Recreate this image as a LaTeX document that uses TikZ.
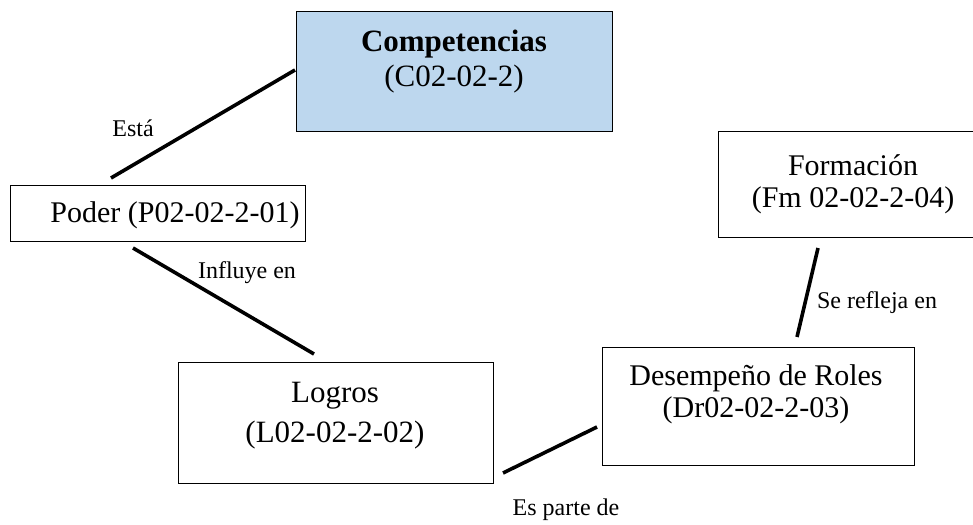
\documentclass[tikz,border=0pt]{standalone}
\usepackage{fontspec}
\setmainfont{Liberation Serif}
\definecolor{boxblue}{RGB}{189,215,238}
\tikzset{
  box/.style={draw=black, line width=1.1pt, inner sep=0pt, anchor=north west},
  txt/.style={anchor=base, inner sep=0pt, font=\fontsize{30}{36}\selectfont},
  lbl/.style={anchor=base, inner sep=0pt, font=\fontsize{24}{28}\selectfont},
  conn/.style={line width=3.6pt}
}
\begin{document}
\begin{tikzpicture}[x=1pt,y=-1pt]
\useasboundingbox (0,0) rectangle (973,524);
% boxes
\node[box, fill=boxblue, minimum width=316pt, minimum height=120pt] (comp) at (296,11) {};
\node[box, minimum width=295pt, minimum height=56pt] (poder) at (10,185) {};
\node[box, minimum width=315pt, minimum height=121pt] (logros) at (178,362) {};
\node[box, minimum width=312pt, minimum height=118pt] (desem) at (602,347) {};
\node[box, minimum width=274pt, minimum height=106pt] (form) at (718,131) {};
% texts
\node[txt, font=\fontsize{31}{36}\selectfont\bfseries] (t1) at (454,52) {Competencias};
\node[txt, font=\fontsize{31}{36}\selectfont] (t2) at (454,87) {(C02-02-2)};
\node[txt] (t3) at (175,222) {Poder (P02-02-2-01)};
\node[txt, font=\fontsize{31}{36}\selectfont] (t4) at (335,402) {Logros};
\node[txt, font=\fontsize{31}{36}\selectfont] (t5) at (335,442) {(L02-02-2-02)};
\node[txt] (t6) at (756,385) {Desempeño de Roles};
\node[txt] (t7) at (756,417) {(Dr02-02-2-03)};
\node[txt] (t8) at (853,175) {Formación};
\node[txt] (t9) at (853,207) {(Fm 02-02-2-04)};
% connector end points
\coordinate (a1) at (111,178); \coordinate (a2) at (295,70);
\coordinate (b1) at (133,248); \coordinate (b2) at (314,354);
\coordinate (c1) at (503,473); \coordinate (c2) at (597,427);
\coordinate (d1) at (818,248); \coordinate (d2) at (797,337);
\draw[conn] (a1) -- (a2);
\draw[conn] (b1) -- (b2);
\draw[conn] (c1) -- (c2);
\draw[conn] (d1) -- (d2);
% labels
\node[lbl] (l1) at (133,136) {Está};
\node[lbl] (l2) at (247,278) {Influye en};
\node[lbl] (l3) at (566,515) {Es parte de};
\node[lbl] (l4) at (877,308) {Se refleja en};
\end{tikzpicture}
\end{document}
